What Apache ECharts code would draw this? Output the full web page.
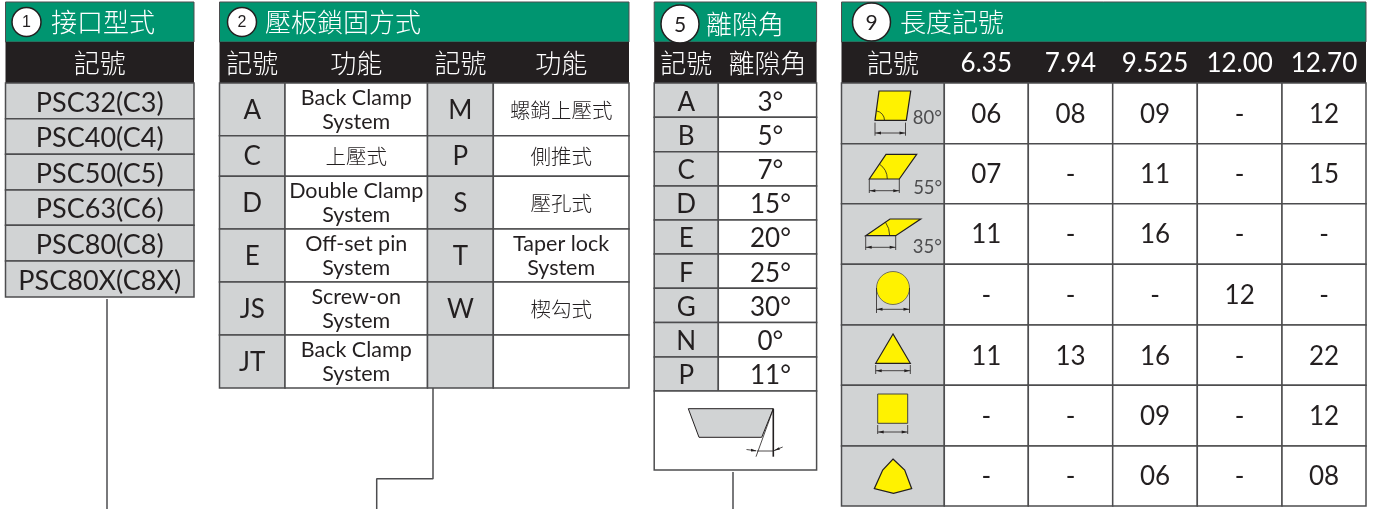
<!DOCTYPE html>
<html>
<head>
<meta charset="utf-8">
<style>
  html, body { margin: 0; padding: 0; background: #fff; }
  #main { width: 1373px; height: 509px; }
</style>
<script src="https://cdn.jsdelivr.net/npm/echarts@6/dist/echarts.min.js"></script>
</head>
<body>
<div id="main"></div>
<script>
// 表格内容
const typeTitle = '接口型式'
const typeHeader = '記號'
const typeCodes = ['PSC32(C3)', 'PSC40(C4)', 'PSC50(C5)', 'PSC63(C6)', 'PSC80(C8)', 'PSC80X(C8X)']

const clampTitle = '壓板鎖固方式'
const clampHeaders = ['記號', '功能', '記號', '功能']
const clampCodesLeft = ['A', 'C', 'D', 'E', 'JS', 'JT']
const clampNamesLeft = ['Back Clamp\nSystem', '上壓式', 'Double Clamp\nSystem', 'Off-set pin\nSystem', 'Screw-on\nSystem', 'Back Clamp\nSystem']
const clampCodesRight = ['M', 'P', 'S', 'T', 'W', '']
const clampNamesRight = ['螺銷上壓式', '側推式', '壓孔式', 'Taper lock\nSystem', '楔勾式', '']

const reliefTitle = '離隙角'
const reliefHeaders = ['記號', '離隙角']
const reliefCodes = ['A', 'B', 'C', 'D', 'E', 'F', 'G', 'N', 'P']
const reliefAngles = ['3°', '5°', '7°', '15°', '20°', '25°', '30°', '0°', '11°']

const lengthTitle = '長度記號'
const lengthHeaders = ['記號', '6.35', '7.94', '9.525', '12.00', '12.70']
const lengthCodes = [
  ['06', '08', '09', '-', '12'],
  ['07', '-', '11', '-', '15'],
  ['11', '-', '16', '-', '-'],
  ['-', '-', '-', '12', '-'],
  ['11', '13', '16', '-', '22'],
  ['-', '-', '09', '-', '12'],
  ['-', '-', '06', '-', '08']
]
const insertAngles = ['80°', '55°', '35°']

// 样式
const GREEN = '#009570'
const BLACK = '#231f20'
const GREY = '#d1d3d4'
const YELLOW = '#fff200'
const BORDER = '#4d4d4f'
const LATIN = 'Lato'
const CJK = '"Noto Sans CJK TC"'

// 表格的行列边界
const TOP = 2
const HEAD_TOP = 42
const BODY_TOP = 83
const typeX = [5.5, 194]
const typeY = [83, 118.7, 154.3, 190, 225.3, 261, 297]
const clampX = [219.5, 285, 427.5, 493.3, 629]
const clampY = [83, 135.7, 176.3, 229, 282, 335, 388]
const reliefX = [654.2, 718.3, 816.6]
const reliefY = [83, 117.3, 151.8, 186, 220, 254, 288.3, 322.5, 357, 391]
const reliefBottom = 470
const lengthX = [841.5, 944.3, 1028.3, 1112.7, 1197.3, 1282, 1366]
const lengthY = [83, 143.7, 203.7, 264.3, 325, 385.3, 446, 506]

// 所有坐标都走 api.coord
function renderMarks (marks) {
  return function (params, api) {
    return { type: 'group', children: marks[params.dataIndex](api) }
  }
}

function pt (api, p) {
  return api.coord(p)
}

function rect (x0, y0, x1, y1, fill, stroke, lineWidth) {
  return api => {
    const a = pt(api, [x0, y0])
    const b = pt(api, [x1, y1])
    return [{
      type: 'rect',
      shape: { x: a[0], y: a[1], width: b[0] - a[0], height: b[1] - a[1] },
      style: { fill: fill, stroke: stroke || null, lineWidth: lineWidth || 0 }
    }]
  }
}

function label (x, y, text, opt) {
  opt = opt || {}
  const isCjk = /[\u4e00-\u9fff]/.test(text)
  // Lato 单行文字看起来偏上,往下挪一点
  const nudge = !isCjk && text.indexOf('\n') < 0 ? 1 : 0.5
  return api => {
    const p = pt(api, [x, y + nudge])
    return [{
      type: 'text',
      z2: 10,
      style: {
        x: p[0],
        y: p[1],
        text: text,
        fill: opt.color || BLACK,
        align: opt.align || 'center',
        verticalAlign: 'middle',
        fontSize: opt.size || 26,
        lineHeight: opt.lineHeight || 24.5,
        fontWeight: opt.weight || (isCjk ? 300 : 400),
        fontFamily: opt.family || (isCjk ? CJK : LATIN)
      }
    }]
  }
}

function poly (points, fill, stroke, lineWidth) {
  return api => [{
    type: 'polygon',
    z2: 5,
    shape: { points: points.map(p => pt(api, p)) },
    style: { fill: fill, stroke: stroke || null, lineWidth: lineWidth || 1, lineJoin: 'miter' }
  }]
}

function seg (points, lineWidth, color) {
  return api => [{
    type: 'polyline',
    z2: 6,
    shape: { points: points.map(p => pt(api, p)) },
    style: { fill: null, stroke: color || BLACK, lineWidth: lineWidth || 0.8 }
  }]
}

function circle (cx, cy, r, fill, stroke, lineWidth) {
  return api => {
    const c = pt(api, [cx, cy])
    return [{
      type: 'circle',
      z2: 6,
      shape: { cx: c[0], cy: c[1], r: r },
      style: { fill: fill, stroke: stroke, lineWidth: lineWidth }
    }]
  }
}

function arc (cx, cy, r, degree) {
  return api => {
    const c = pt(api, [cx, cy])
    return [{
      type: 'arc',
      z2: 6,
      shape: { cx: c[0], cy: c[1], r: r, startAngle: -degree * Math.PI / 180, endAngle: 0, clockwise: true },
      style: { fill: null, stroke: BLACK, lineWidth: 0.8 }
    }]
  }
}

// 尺寸标注:两条竖线加一条双箭头横线
function dimension (x0, x1, yFrom, yTo, yArrow) {
  return [
    seg([[x0, yFrom], [x0, yTo]]),
    seg([[x1, yFrom], [x1, yTo]]),
    seg([[x0, yArrow], [x1, yArrow]]),
    poly([[x0 + 0.5, yArrow], [x0 + 6, yArrow - 1.5], [x0 + 6, yArrow + 1.5]], BLACK),
    poly([[x1 - 0.5, yArrow], [x1 - 6, yArrow - 1.5], [x1 - 6, yArrow + 1.5]], BLACK)
  ]
}

function headerMarks (x0, x1, title, titleX, badge) {
  return [
    rect(x0, TOP, x1, HEAD_TOP, GREEN, BORDER, 1),
    rect(x0, HEAD_TOP, x1, BODY_TOP, BLACK),
    circle(badge.x, badge.y, badge.r, '#fff', BLACK, 1.5),
    label(badge.x, badge.y, badge.text, { size: badge.size, family: badge.family, color: BLACK }),
    label(titleX, badge.titleY, title, { align: 'left', color: '#fff' })
  ]
}

const LEFT_BADGE = { r: 14.5, size: 16, family: '"Liberation Sans"', y: 22, titleY: 22 }
const BIG_BADGE = { r: 19, size: 21, family: LATIN, y: 24, titleY: 24 }

// 1 接口型式
const typeMarks = headerMarks(typeX[0], typeX[1], typeTitle, 51, Object.assign({ x: 26.5, text: '1' }, LEFT_BADGE))
typeMarks.push(label((typeX[0] + typeX[1]) / 2, 63, typeHeader, { color: '#fff' }))
typeCodes.forEach((code, i) => {
  typeMarks.push(rect(typeX[0], typeY[i], typeX[1], typeY[i + 1], GREY, BORDER, 1.5))
  typeMarks.push(label((typeX[0] + typeX[1]) / 2, (typeY[i] + typeY[i + 1]) / 2 + 1, code, { size: 27 }))
})

// 2 压板锁固方式
const clampMarks = headerMarks(clampX[0], clampX[4], clampTitle, 265, Object.assign({ x: 242, text: '2' }, LEFT_BADGE))
clampHeaders.forEach((h, i) => {
  clampMarks.push(label((clampX[i] + clampX[i + 1]) / 2, 63, h, { color: '#fff' }))
})
clampCodesLeft.forEach((code, i) => {
  const yc = (clampY[i] + clampY[i + 1]) / 2
  const cols = [code, clampNamesLeft[i], clampCodesRight[i], clampNamesRight[i]]
  cols.forEach((text, c) => {
    clampMarks.push(rect(clampX[c], clampY[i], clampX[c + 1], clampY[i + 1], c % 2 ? '#fff' : GREY, BORDER, 1.5))
    if (text) {
      const small = c % 2 === 1
      const isCjk = /[\u4e00-\u9fff]/.test(text)
      clampMarks.push(label((clampX[c] + clampX[c + 1]) / 2, yc, text, { size: small ? (isCjk ? 20.5 : 21.5) : 26 }))
    }
  })
})

// 5 离隙角
const reliefMarks = headerMarks(reliefX[0], reliefX[2], reliefTitle, 706, Object.assign({ x: 680, text: '5' }, BIG_BADGE))
reliefHeaders.forEach((h, i) => {
  reliefMarks.push(label((reliefX[i] + reliefX[i + 1]) / 2, 63, h, { color: '#fff' }))
})
reliefCodes.forEach((code, i) => {
  const yc = (reliefY[i] + reliefY[i + 1]) / 2 + 1
  reliefMarks.push(rect(reliefX[0], reliefY[i], reliefX[1], reliefY[i + 1], GREY, BORDER, 1.5))
  reliefMarks.push(rect(reliefX[1], reliefY[i], reliefX[2], reliefY[i + 1], '#fff', BORDER, 1.5))
  reliefMarks.push(label((reliefX[0] + reliefX[1]) / 2, yc, code))
  reliefMarks.push(label((reliefX[1] + reliefX[2]) / 2 + 3, yc, reliefAngles[i]))
})
reliefMarks.push(rect(reliefX[0], reliefY[9], reliefX[2], reliefBottom, '#fff', BORDER, 1.5))
reliefMarks.push(poly([[688.3, 408.7], [773.3, 408.7], [761.7, 437.3], [699, 437.3]], GREY, BLACK, 1))
reliefMarks.push(seg([[773.3, 408.7], [773.3, 456.7]], 1.6))
reliefMarks.push(seg([[773.3, 409], [756, 456.7]], 0.8))
reliefMarks.push(seg([[757, 451], [773.3, 451]], 0.8))
reliefMarks.push(seg([[746.5, 449.5], [756, 450.8]], 0.8))
reliefMarks.push(seg([[782.7, 447], [773.5, 450.8]], 0.8))
reliefMarks.push(poly([[757, 451], [751, 448.8], [751, 451.6]], BLACK))
reliefMarks.push(poly([[773.8, 450.8], [779, 447.2], [780, 449.6]], BLACK))

// 9 长度记号
const lengthMarks = headerMarks(lengthX[0], lengthX[6], lengthTitle, 900, Object.assign({ x: 871.5, text: '9' }, BIG_BADGE, { y: 22, titleY: 22 }))
lengthHeaders.forEach((h, i) => {
  lengthMarks.push(label((lengthX[i] + lengthX[i + 1]) / 2, 63, h, { color: '#fff' }))
})
lengthCodes.forEach((row, i) => {
  const yc = (lengthY[i] + lengthY[i + 1]) / 2
  lengthMarks.push(rect(lengthX[0], lengthY[i], lengthX[1], lengthY[i + 1], GREY, BORDER, 1.5))
  row.forEach((code, c) => {
    lengthMarks.push(rect(lengthX[c + 1], lengthY[i], lengthX[c + 2], lengthY[i + 1], '#fff', BORDER, 1.5))
    lengthMarks.push(label((lengthX[c + 1] + lengthX[c + 2]) / 2, yc, code))
  })
})

// 刀片示意图
const ANGLE_STYLE = { size: 18.5, color: '#4d4d4f' }
lengthMarks.push(
  poly([[875, 120.3], [879, 91], [910.7, 91], [906.3, 120.3]], YELLOW, BLACK, 1.2),
  arc(875, 120.3, 9.5, 80),
  label(927.3, 116.7, insertAngles[0], ANGLE_STYLE),
  ...dimension(875, 905.5, 122.6, 135.7, 133),
  poly([[869.3, 179], [886, 154.3], [916.7, 154.3], [899.3, 179]], YELLOW, BLACK, 1.2),
  arc(869.3, 179, 18, 55),
  label(927.7, 187.3, insertAngles[1], ANGLE_STYLE),
  ...dimension(869.3, 899.3, 179, 193, 190.7),
  poly([[865.7, 235.7], [890, 219], [920.7, 219], [895.7, 235.7]], YELLOW, BLACK, 1.2),
  arc(865.7, 235.7, 24, 35),
  label(927.3, 246, insertAngles[2], ANGLE_STYLE),
  ...dimension(865.7, 895.7, 235.7, 250, 247.3),
  circle(893, 288, 16.5, YELLOW, '#555', 0.8),
  ...dimension(876.5, 909.5, 288, 313, 309.3),
  poly([[893, 334], [875.7, 363.3], [910.3, 363.3]], YELLOW, BLACK, 1.2),
  ...dimension(875.7, 910.3, 365, 374, 370.7),
  poly([[877.7, 394], [907.7, 394], [907.7, 423.3], [877.7, 423.3]], YELLOW, '#444', 1),
  ...dimension(877.7, 907.7, 425, 434, 432),
  poly([[893, 459], [904.7, 470], [911.7, 488.7], [893.5, 493.3], [874.3, 488.7], [882.7, 470]], YELLOW, BLACK, 1.2)
)

// 引出线
const leaderLines = [
  [[107, 299], [107, 509]],
  [[433, 388], [433, 478.7], [376.7, 478.7], [376.7, 509]],
  [[733, 472], [733, 509]]
]

function tableSeries (name, marks) {
  return {
    name: name,
    type: 'custom',
    coordinateSystem: 'cartesian2d',
    silent: true,
    clip: false,
    renderItem: renderMarks(marks),
    encode: { x: 0, y: 1 },
    data: marks.map(() => [0, 0])
  }
}

const myChart = echarts.init(document.getElementById('main'))
myChart.setOption({
  animation: false,
  backgroundColor: '#fff',
  grid: { left: 0, right: 0, top: 0, bottom: 0 },
  xAxis: { type: 'value', min: 0, max: 1373, show: false },
  yAxis: { type: 'value', min: 0, max: 509, inverse: true, show: false },
  series: [
    ...leaderLines.map((line, i) => ({
      name: 'leader' + i,
      type: 'line',
      data: line,
      showSymbol: false,
      silent: true,
      lineStyle: { color: BORDER, width: 1.5 }
    })),
    tableSeries(typeTitle, typeMarks),
    tableSeries(clampTitle, clampMarks),
    tableSeries(reliefTitle, reliefMarks),
    tableSeries(lengthTitle, lengthMarks)
  ]
})
</script>
</body>
</html>
